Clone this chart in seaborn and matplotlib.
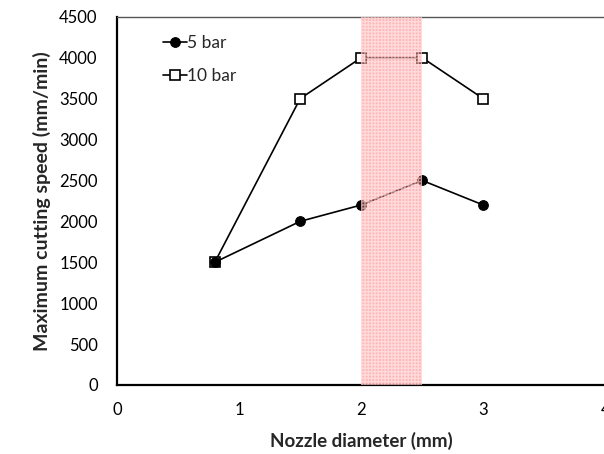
import matplotlib
matplotlib.use("Agg")
import matplotlib.pyplot as plt
import seaborn as sns
import pandas as pd
from matplotlib.ticker import MultipleLocator

nozzle = [0.8, 1.5, 2.0, 2.5, 3.0]
speed_5bar = [1500, 2000, 2200, 2500, 2200]
speed_10bar = [1500, 3500, 4000, 4000, 3500]
series_names = ["5 bar", "10 bar"]

sns.set_style("white")
plt.rcParams['font.family'] = ['Lato', 'DejaVu Sans']

fig = plt.figure(figsize=(6.04, 4.54), dpi=100)
ax = fig.add_axes([0.194, 0.152, 0.808, 0.811])

df5 = pd.DataFrame({"x": nozzle, "y": speed_5bar})
df10 = pd.DataFrame({"x": nozzle, "y": speed_10bar})

sns.lineplot(data=df10, x="x", y="y", ax=ax, color="black", lw=1.2,
             marker="s", markersize=6.5, markerfacecolor="white",
             markeredgecolor="black", markeredgewidth=1.2, label=series_names[1],
             zorder=2)
sns.lineplot(data=df5, x="x", y="y", ax=ax, color="black", lw=1.2,
             marker="o", markersize=7, markerfacecolor="black",
             markeredgecolor="black", label=series_names[0], zorder=3)

ax.axvspan(2.0, 2.5, facecolor="#ff6f6f", alpha=0.5, edgecolor="white",
           hatch="+++++", lw=0, zorder=5)

ax.set_xlim(0, 4)
ax.set_ylim(0, 4500)
ax.xaxis.set_major_locator(MultipleLocator(1))
ax.xaxis.set_minor_locator(MultipleLocator(0.2))
ax.yaxis.set_major_locator(MultipleLocator(500))
ax.yaxis.set_minor_locator(MultipleLocator(100))
ax.tick_params(axis="both", which="both", direction="in", colors="black",
               labelsize=12)
ax.tick_params(axis="both", which="major", length=5, width=1)
ax.tick_params(axis="both", which="minor", length=3, width=0.8)
ax.tick_params(axis="x", pad=12)
ax.tick_params(axis="y", pad=14)

for side in ["left", "bottom"]:
    ax.spines[side].set_color("black")
    ax.spines[side].set_linewidth(1.6)
ax.spines["top"].set_color("#555555")
ax.spines["top"].set_linewidth(1.0)
ax.spines["right"].set_visible(False)

ax.set_xlabel("Nozzle diameter (mm)", fontsize=13.5, fontweight="bold", labelpad=10)
ax.set_ylabel("Maximum cutting speed (mm/min)", fontsize=14, fontweight="bold", labelpad=6)

handles, labels = ax.get_legend_handles_labels()
order = [labels.index(n) for n in series_names]
ax.legend([handles[i] for i in order], [labels[i] for i in order],
          loc="upper left", bbox_to_anchor=(0.08, 0.97), frameon=False,
          fontsize=12.5, handlelength=1.4, handletextpad=0.0,
          labelspacing=1.0, borderaxespad=0)

fig.savefig("out.png", dpi=100)
